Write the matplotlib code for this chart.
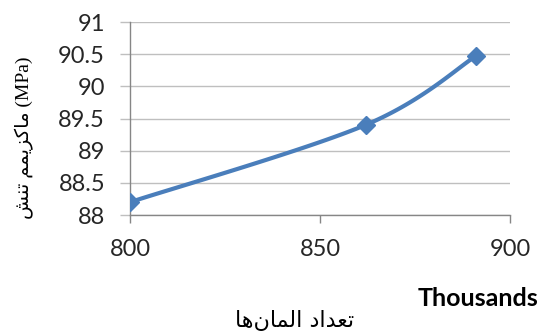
import numpy as np
import matplotlib
matplotlib.use("Agg")
import matplotlib.pyplot as plt

# data (x in thousands of elements, y in MPa)
elements = [800, 862, 891]
max_stress = [88.2, 89.4, 90.47]

x_ticks = [800, 850, 900]
y_ticks = [88, 88.5, 89, 89.5, 90, 90.5, 91]
y_tick_labels = ["88", "88.5", "89", "89.5", "90", "90.5", "91"]

# persian labels written in visual order with presentation forms
ylabel_fa = "\uFEB6\uFEE8\uFE97 \uFEE2\uFEE4\uFBFE\uFEB0\uFB90\uFE8E\uFEE3"
xlabel_fa = "\uFE8E\uFEEB\uFEE5\uFE8E\uFEE4\uFEDF\uFE8D \uFEA9\uFE8D\uFEAA\uFECC\uFE97"

blue = "#4a7ebb"
grid = "#bfbfbf"
axis_gray = "#868686"


def smooth(xs, ys, sx, sy, n=40):
    # excel like smoothed line, catmull-rom bezier in screen-ish units
    P = np.column_stack([np.array(xs) * sx, np.array(ys) * sy])
    pts = [P[0]] + list(P) + [P[-1]]
    out = []
    for i in range(1, len(pts) - 2):
        p0, p1, p2, p3 = pts[i - 1], pts[i], pts[i + 1], pts[i + 2]
        c1 = p1 + (p2 - p0) / 6
        c2 = p2 - (p3 - p1) / 6
        t = np.linspace(0, 1, n)[:, None]
        b = (1 - t) ** 3 * p1 + 3 * (1 - t) ** 2 * t * c1 + 3 * (1 - t) * t ** 2 * c2 + t ** 3 * p2
        out.append(b)
    out = np.vstack(out)
    return out[:, 0] / sx, out[:, 1] / sy


fig = plt.figure(figsize=(5.42, 3.32), dpi=100)
ax = fig.add_axes([0.2399, 0.3524, 0.7011, 0.5813])

sx_, sy_ = smooth(elements, max_stress, 380 / 100, 193 / 3)
ax.plot(sx_, sy_, color=blue, lw=3, solid_capstyle="round", zorder=3)
ax.plot(elements, max_stress, ls="none", marker="D", ms=9, color=blue, zorder=4)

ax.set_xlim(800, 900)
ax.set_ylim(88, 91)
ax.set_xticks(x_ticks)
ax.set_yticks(y_ticks)
ax.set_yticklabels(y_tick_labels)
ax.grid(axis="y", color=grid, lw=1)
ax.set_axisbelow(True)

for s in ["top", "right"]:
    ax.spines[s].set_visible(False)
for s in ["left", "bottom"]:
    ax.spines[s].set_color(axis_gray)
    ax.spines[s].set_linewidth(1)

ax.tick_params(axis="y", length=7, width=1, color=grid, pad=11, labelsize=17, labelcolor="#262626")
ax.tick_params(axis="x", length=6, width=1, color=axis_gray, pad=11, labelsize=17, labelcolor="#262626")
for lab in ax.get_xticklabels() + ax.get_yticklabels():
    lab.set_fontfamily(["Lato", "DejaVu Sans"])

fig.text(0.993, 0.102, "Thousands", ha="right", va="center", fontsize=18,
         fontweight="bold", family=["Lato", "DejaVu Sans"])
fig.text(0.544, 0.036, xlabel_fa, ha="center", va="center", fontsize=16,
         family=["DejaVu Sans"])
fig.text(0.046, 0.584, ylabel_fa + " (MPa)", ha="center", va="center", rotation=90,
         fontsize=14, family=["Liberation Serif", "DejaVu Sans"])

fig.savefig("out.png", dpi=100)
